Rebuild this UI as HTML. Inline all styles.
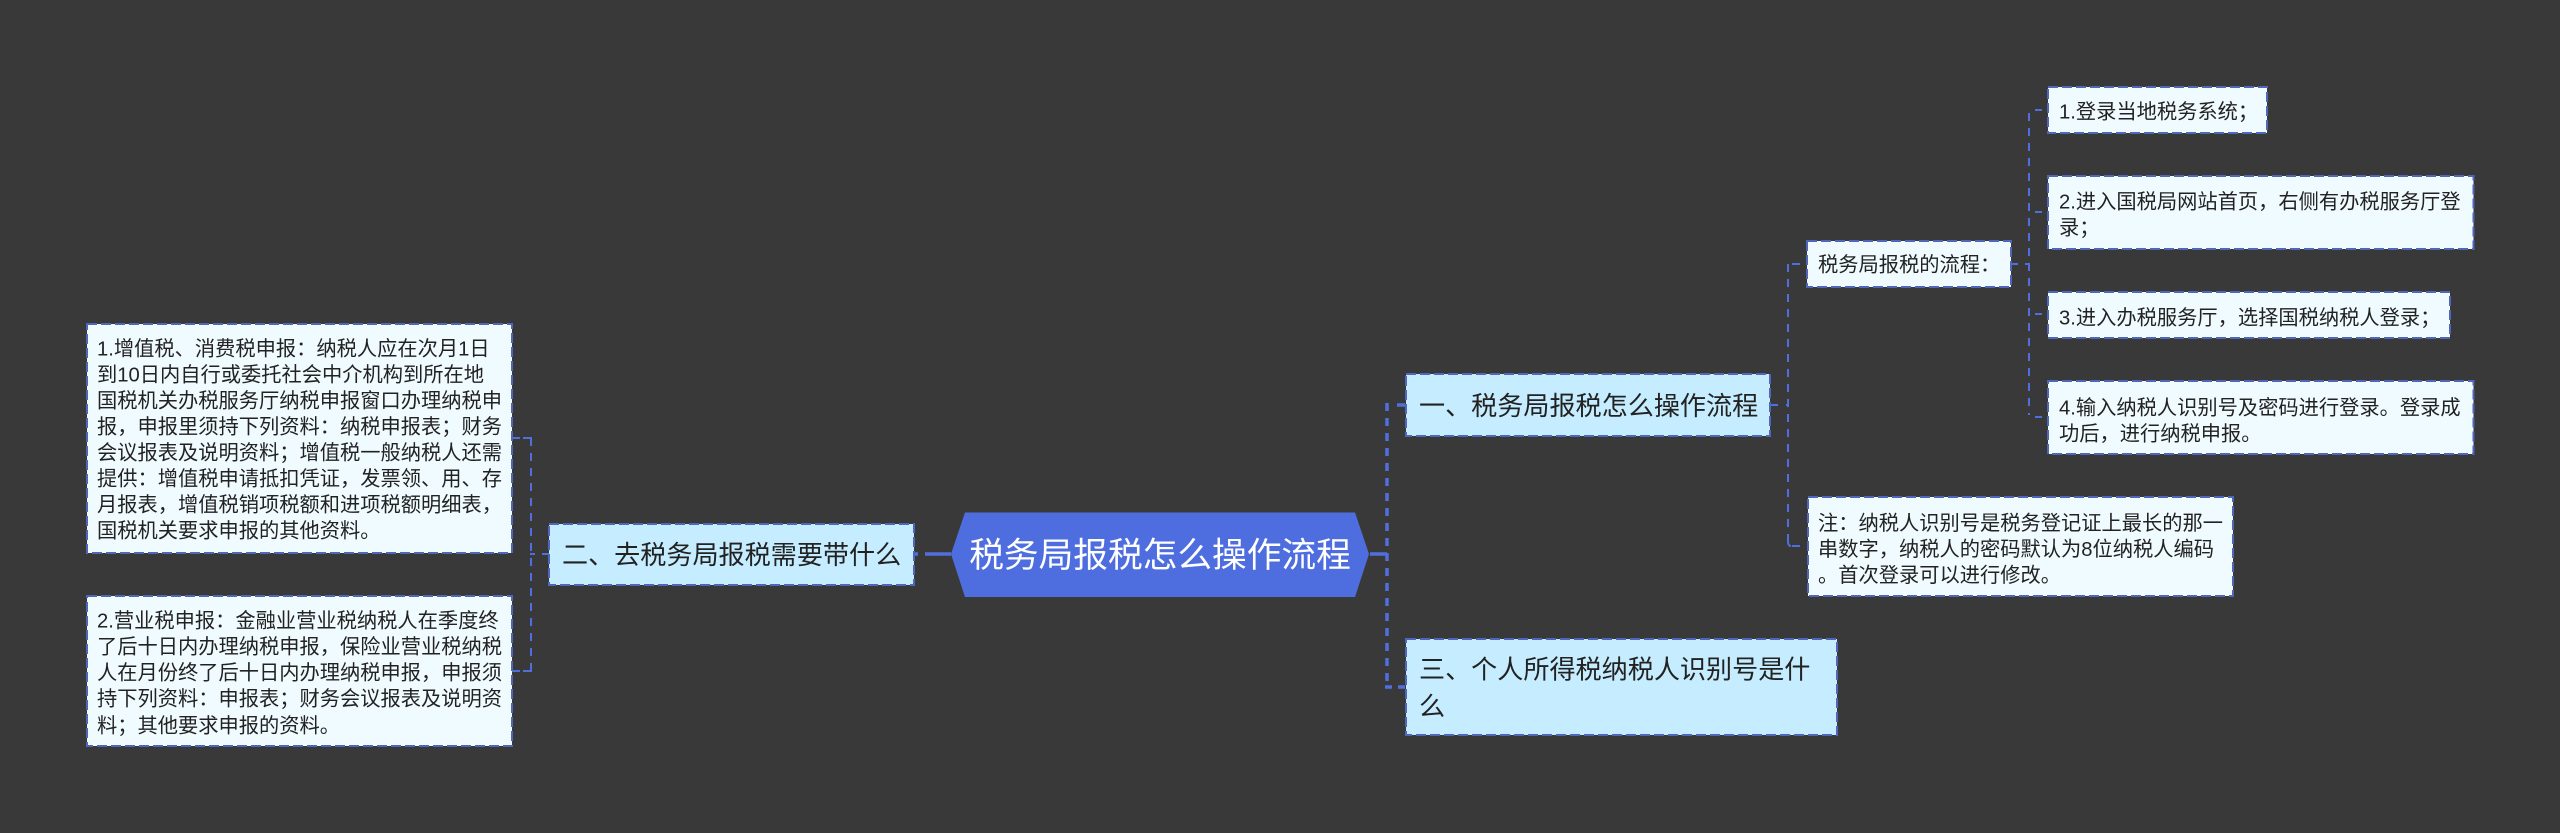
<!DOCTYPE html>
<html><head><meta charset="utf-8"><style>
html,body{margin:0;padding:0;width:2560px;height:833px;background:#3a393a;overflow:hidden}
svg{display:block}
text{font-family:"Liberation Sans","Noto Sans CJK SC",sans-serif;fill:#222}
.c{fill:none;stroke:#4f6fdc;stroke-dasharray:8 7}
.p{fill:none;stroke:#4f6fdc}
.t{stroke-width:3.5}.f{stroke-width:2}
.b{stroke:#4f66bd;stroke-width:2;stroke-dasharray:10 4}
.l1{fill:#c6edff}.l2{fill:#f0fbff}
.s{font-size:20.25px}.m{font-size:26.1px}
</style></head><body>
<svg width="2560" height="833" viewBox="0 0 2560 833" xmlns="http://www.w3.org/2000/svg">
<path class="c t" d="M1387 403V687"/>
<path class="p t" d="M1397 405H1405M1385 687H1392M1398 687H1405M1370 554H1387"/>
<path class="p t" d="M925 554H951"/>
<path class="p t" d="M914 554H918"/>
<path class="c f" d="M531 438V671"/>
<path class="p f" d="M512 438H520M523 438H532M512 671H520M523 671H532M530 554H535M542 554H549"/>
<path class="c f" d="M1788 264V541"/>
<path class="p f" d="M1770 405H1778M1786 405H1788M1792 264H1800M1792 546H1800M1788 541Q1788 546 1791 546"/>
<path class="c f" d="M2029 113V415"/>
<path class="p f" d="M2035 110H2042M2035 212H2042M2035 314H2042M2035 417H2042M2011 264H2018M2025 264H2029"/>

<polygon points="951,554 965,512.5 1355,512.5 1369,554 1355,597 965,597" fill="#4e6ee0"/>
<text x="1160" y="567" text-anchor="middle" style="font-size:34.7px;fill:#fff">税务局报税怎么操作流程</text>

<rect class="b l1" x="549" y="524" width="365" height="61"/>
<text class="m" x="562" y="564">二、去税务局报税需要带什么</text>

<rect class="b l1" x="1406" y="374" width="364" height="62"/>
<text class="m" x="1419" y="415">一、税务局报税怎么操作流程</text>

<rect class="b l1" x="1406" y="639" width="431" height="96"/>
<text class="m" x="1419" y="678.5">三、个人所得税纳税人识别号是什</text>
<text class="m" x="1419" y="715.5">么</text>

<rect class="b l2" x="87" y="324" width="425" height="229"/>
<text class="s" x="97" y="355.6">1.增值税、消费税申报：纳税人应在次月1日</text>
<text class="s" x="97" y="381.6">到10日内自行或委托社会中介机构到所在地</text>
<text class="s" x="97" y="407.6">国税机关办税服务厅纳税申报窗口办理纳税申</text>
<text class="s" x="97" y="433.6">报，申报里须持下列资料：纳税申报表；财务</text>
<text class="s" x="97" y="459.6">会议报表及说明资料；增值税一般纳税人还需</text>
<text class="s" x="97" y="485.6">提供：增值税申请抵扣凭证，发票领、用、存</text>
<text class="s" x="97" y="511.6">月报表，增值税销项税额和进项税额明细表，</text>
<text class="s" x="97" y="537.6">国税机关要求申报的其他资料。</text>

<rect class="b l2" x="87" y="596" width="425" height="150"/>
<text class="s" x="97" y="627.6">2.营业税申报：金融业营业税纳税人在季度终</text>
<text class="s" x="97" y="653.6">了后十日内办理纳税申报，保险业营业税纳税</text>
<text class="s" x="97" y="679.6">人在月份终了后十日内办理纳税申报，申报须</text>
<text class="s" x="97" y="705.6">持下列资料：申报表；财务会议报表及说明资</text>
<text class="s" x="97" y="732.6">料；其他要求申报的资料。</text>

<rect class="b l2" x="1807" y="241" width="204" height="46"/>
<text class="s" x="1818" y="271.6">税务局报税的流程：</text>

<rect class="b l2" x="1808" y="497" width="425" height="99"/>
<text class="s" x="1818" y="530">注：纳税人识别号是税务登记证上最长的那一</text>
<text class="s" x="1818" y="556">串数字，纳税人的密码默认为8位纳税人编码</text>
<text class="s" x="1818" y="582">。首次登录可以进行修改。</text>

<rect class="b l2" x="2048" y="87" width="219" height="46"/>
<text class="s" x="2059" y="118.6">1.登录当地税务系统；</text>

<rect class="b l2" x="2048" y="176" width="425.5" height="73"/>
<text class="s" x="2059" y="208.6">2.进入国税局网站首页，右侧有办税服务厅登</text>
<text class="s" x="2059" y="234.6">录；</text>

<rect class="b l2" x="2048" y="292" width="402" height="46"/>
<text class="s" x="2059" y="324.6">3.进入办税服务厅，选择国税纳税人登录；</text>

<rect class="b l2" x="2048" y="381" width="425.5" height="73"/>
<text class="s" x="2059" y="414.6">4.输入纳税人识别号及密码进行登录。登录成</text>
<text class="s" x="2059" y="440.6">功后，进行纳税申报。</text>
</svg>
</body></html>
